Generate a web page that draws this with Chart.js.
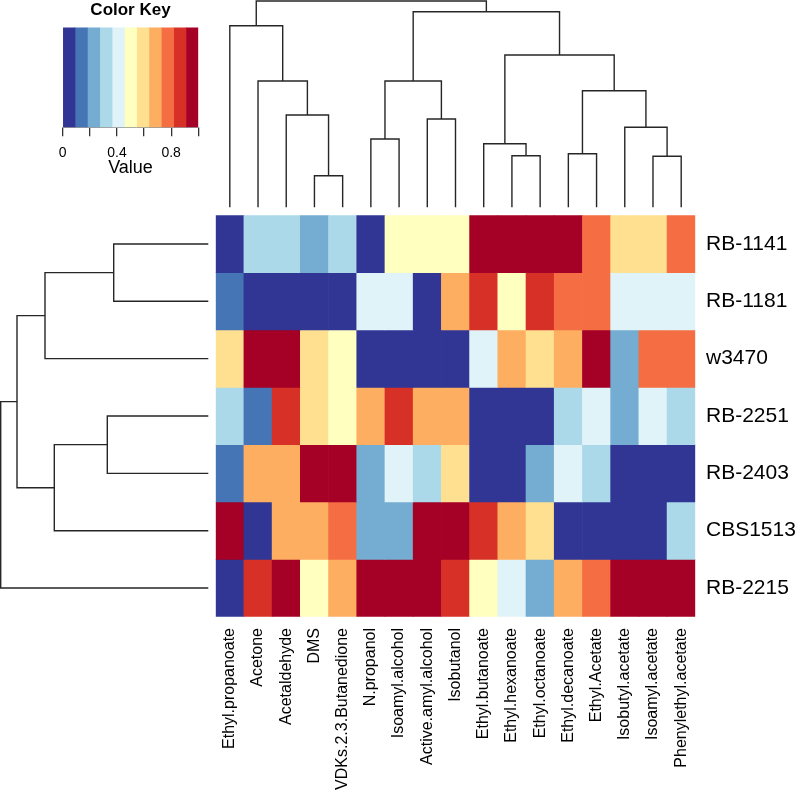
<!DOCTYPE html>
<html>
<head>
<meta charset="utf-8">
<title>Volatile compounds heatmap</title>
<script src="https://cdn.jsdelivr.net/npm/chart.js@4.4.1/dist/chart.umd.min.js"></script>
<style>
  html, body { margin: 0; padding: 0; background: #fff; }
  #wrap { position: relative; width: 800px; height: 795px; }
  #wrap canvas { position: absolute; left: 0; top: 0; }
</style>
</head>
<body>
<div id="wrap">
  <canvas id="keyChart" width="800" height="795"></canvas>
  <canvas id="colTree" width="800" height="795"></canvas>
  <canvas id="rowTree" width="800" height="795"></canvas>
  <canvas id="heatChart" width="800" height="795"></canvas>
</div>
<script>
// Column and row labels, in the order they are drawn
const colNames = ['Ethyl.propanoate', 'Acetone', 'Acetaldehyde', 'DMS', 'VDKs.2.3.Butanedione',
    'N.propanol', 'Isoamyl.alcohol', 'Active.amyl.alcohol', 'Isobutanol', 'Ethyl.butanoate',
    'Ethyl.hexanoate', 'Ethyl.octanoate', 'Ethyl.decanoate', 'Ethyl.Acetate', 'Isobutyl.acetate',
    'Isoamyl.acetate', 'Phenylethyl.acetate'];
const rowNames = ['RB-1141', 'RB-1181', 'w3470', 'RB-2251', 'RB-2403', 'CBS1513', 'RB-2215'];

// Scaled values per strain (0..1)
const rb1141  = [0.05, 0.32, 0.32, 0.23, 0.32, 0.05, 0.50, 0.50, 0.50, 0.95, 0.95, 0.95, 0.95, 0.77, 0.59, 0.59, 0.77];
const rb1181  = [0.14, 0.05, 0.05, 0.05, 0.05, 0.41, 0.41, 0.05, 0.68, 0.86, 0.50, 0.86, 0.77, 0.77, 0.41, 0.41, 0.41];
const w3470   = [0.59, 0.95, 0.95, 0.59, 0.50, 0.05, 0.05, 0.05, 0.05, 0.41, 0.68, 0.59, 0.68, 0.95, 0.23, 0.77, 0.77];
const rb2251  = [0.32, 0.14, 0.86, 0.59, 0.50, 0.68, 0.86, 0.68, 0.68, 0.05, 0.05, 0.05, 0.32, 0.41, 0.23, 0.41, 0.32];
const rb2403  = [0.14, 0.68, 0.68, 0.95, 0.95, 0.23, 0.41, 0.32, 0.59, 0.05, 0.05, 0.23, 0.41, 0.32, 0.05, 0.05, 0.05];
const cbs1513 = [0.95, 0.05, 0.68, 0.68, 0.77, 0.23, 0.23, 0.95, 0.95, 0.86, 0.68, 0.59, 0.05, 0.05, 0.05, 0.05, 0.32];
const rb2215  = [0.05, 0.86, 0.95, 0.50, 0.68, 0.95, 0.95, 0.95, 0.86, 0.50, 0.41, 0.23, 0.68, 0.77, 0.95, 0.95, 0.95];
const rowValues = [rb1141, rb1181, w3470, rb2251, rb2403, cbs1513, rb2215];

// Colour key: 11 bins from blue to red
const palette = ['#313695', '#4575b4', '#74add1', '#abd9e9', '#e0f3f8', '#ffffbf',
    '#fee090', '#fdae61', '#f46d43', '#d73027', '#a50026'];
const keyBreaks = [0, 0.091, 0.182, 0.273, 0.364, 0.455, 0.545, 0.636, 0.727, 0.818, 0.909, 1];

// Dendrograms: merge pairs (negative = leaf position, positive = earlier merge) and their heights
const colMerge = [[-4, -5], [-3, 1], [-2, 2], [-1, 3], [-6, -7], [-8, -9], [5, 6], [-11, -12],
    [-10, 8], [-13, -14], [-16, -17], [-15, 11], [10, 12], [9, 13], [7, 14], [4, 15]];
const colHeight = [31.6, 92.3, 126.3, 181.6, 68.3, 88.3, 126.3, 51.6, 63.6, 53.6, 51, 80, 116.6, 152.3, 195.6, 206.3];
const rowMerge = [[-1, -2], [-3, 1], [-4, -5], [3, -6], [2, 4], [5, -7]];
const rowHeight = [94.6, 163.3, 101, 154, 191.3, 207.6];

const fontFamily = "'Liberation Sans', Arial, Helvetica, sans-serif";
const lineColor = '#262626';

// Pick the colour bin of a value
function colourFor(v) {
    for (let i = 0; i < palette.length; i++) {
        if (v >= keyBreaks[i] && v < keyBreaks[i + 1]) return palette[i];
    }
    return palette[palette.length - 1];
}

// Build one line dataset per merge (the U shape of the dendrogram)
function treeDatasets(merges, heights, sideways) {
    const pos = [];
    const datasets = [];
    merges.forEach((pair, k) => {
        const ends = pair.map(c => c < 0 ? { p: -c - 0.5, h: 0 } : { p: pos[c - 1], h: heights[c - 1] });
        pos.push((ends[0].p + ends[1].p) / 2);
        const h = heights[k];
        const pts = [[ends[0].p, ends[0].h], [ends[0].p, h], [ends[1].p, h], [ends[1].p, ends[1].h]];
        datasets.push({
            data: pts.map(([p, v]) => sideways ? { x: v, y: p } : { x: p, y: v }),
            showLine: true,
            borderColor: lineColor,
            borderWidth: 1.4,
            pointRadius: 0,
            tension: 0,
            clip: false
        });
    });
    return datasets;
}

const common = {
    responsive: false,
    animation: false,
    events: [],
    plugins: { legend: { display: false }, tooltip: { enabled: false } }
};

// Colour key
new Chart(document.getElementById('keyChart'), {
    type: 'bar',
    data: {
        labels: ['Value'],
        datasets: palette.map((c, i) => ({
            data: [[keyBreaks[i], keyBreaks[i + 1]]],
            backgroundColor: c,
            borderWidth: 0,
            grouped: false,
            barPercentage: 1,
            categoryPercentage: 1
        }))
    },
    options: {
        ...common,
        indexAxis: 'y',
        layout: { padding: { left: 62.7, right: 601.7, top: 0, bottom: 595 } },
        plugins: {
            ...common.plugins,
            title: {
                display: true,
                text: 'Color Key',
                color: '#000',
                font: { family: fontFamily, size: 17, weight: 'bold' },
                padding: { top: 0, bottom: 7 }
            }
        },
        scales: {
            x: {
                type: 'linear',
                min: 0,
                max: 1,
                afterFit: s => { s.height = 72.7; },
                ticks: {
                    stepSize: 0.2,
                    autoSkip: false,
                    padding: 8,
                    color: '#000',
                    font: { family: fontFamily, size: 14 },
                    callback: v => [0, 4, 8].includes(Math.round(v * 10)) ? String(Math.round(v * 10) / 10) : ''
                },
                grid: { display: true, drawOnChartArea: false, drawTicks: true, tickLength: 9, color: '#333', lineWidth: 1.3 },
                border: { display: true, color: '#999', width: 1 },
                title: {
                    display: true,
                    text: 'Value',
                    color: '#000',
                    font: { family: fontFamily, size: 18 },
                    padding: { top: 0, bottom: 20.7 }
                }
            },
            y: { display: false }
        }
    }
});

// Column dendrogram (top)
new Chart(document.getElementById('colTree'), {
    type: 'scatter',
    data: { datasets: treeDatasets(colMerge, colHeight, false) },
    options: {
        ...common,
        layout: { padding: { left: 215.7, right: 104.7, top: 1, bottom: 587.7 } },
        scales: {
            x: { type: 'linear', display: false, min: 0, max: colNames.length },
            y: { type: 'linear', display: false, min: 0, max: 206.3 }
        }
    }
});

// Row dendrogram (left)
new Chart(document.getElementById('rowTree'), {
    type: 'scatter',
    data: { datasets: treeDatasets(rowMerge, rowHeight, true) },
    options: {
        ...common,
        layout: { padding: { left: 0.7, right: 591.7, top: 215.3, bottom: 178.3 } },
        scales: {
            x: { type: 'linear', display: false, min: 0, max: 207.6, reverse: true },
            y: { type: 'linear', display: false, min: 0, max: rowNames.length, reverse: true }
        }
    }
});

// Heatmap: one floating bar dataset per strain
new Chart(document.getElementById('heatChart'), {
    type: 'bar',
    data: {
        labels: colNames,
        datasets: rowValues.map((vals, r) => ({
            label: rowNames[r],
            data: vals.map(() => [r, r + 1]),
            backgroundColor: vals.map(colourFor),
            borderWidth: 0,
            grouped: false,
            barPercentage: 1,
            categoryPercentage: 1
        }))
    },
    options: {
        ...common,
        layout: { padding: { left: 215.7, top: 215.3, right: 0, bottom: 0 } },
        scales: {
            x: {
                afterFit: s => { s.height = 178.3; },
                grid: { display: false, drawTicks: false },
                border: { display: false },
                ticks: {
                    autoSkip: false,
                    minRotation: 90,
                    maxRotation: 90,
                    padding: 11.3,
                    color: '#000',
                    font: { family: fontFamily, size: 16 }
                }
            },
            y: {
                type: 'linear',
                position: 'right',
                min: 0,
                max: rowNames.length,
                reverse: true,
                afterFit: s => { s.width = 104.7; },
                afterBuildTicks: s => { s.ticks = rowNames.map((n, i) => ({ value: i + 0.5 })); },
                grid: { display: false, drawTicks: false },
                border: { display: false },
                ticks: {
                    autoSkip: false,
                    padding: 10.7,
                    color: '#000',
                    font: { family: fontFamily, size: 21 },
                    callback: v => rowNames[Math.floor(v)]
                }
            }
        }
    }
});
</script>
</body>
</html>
